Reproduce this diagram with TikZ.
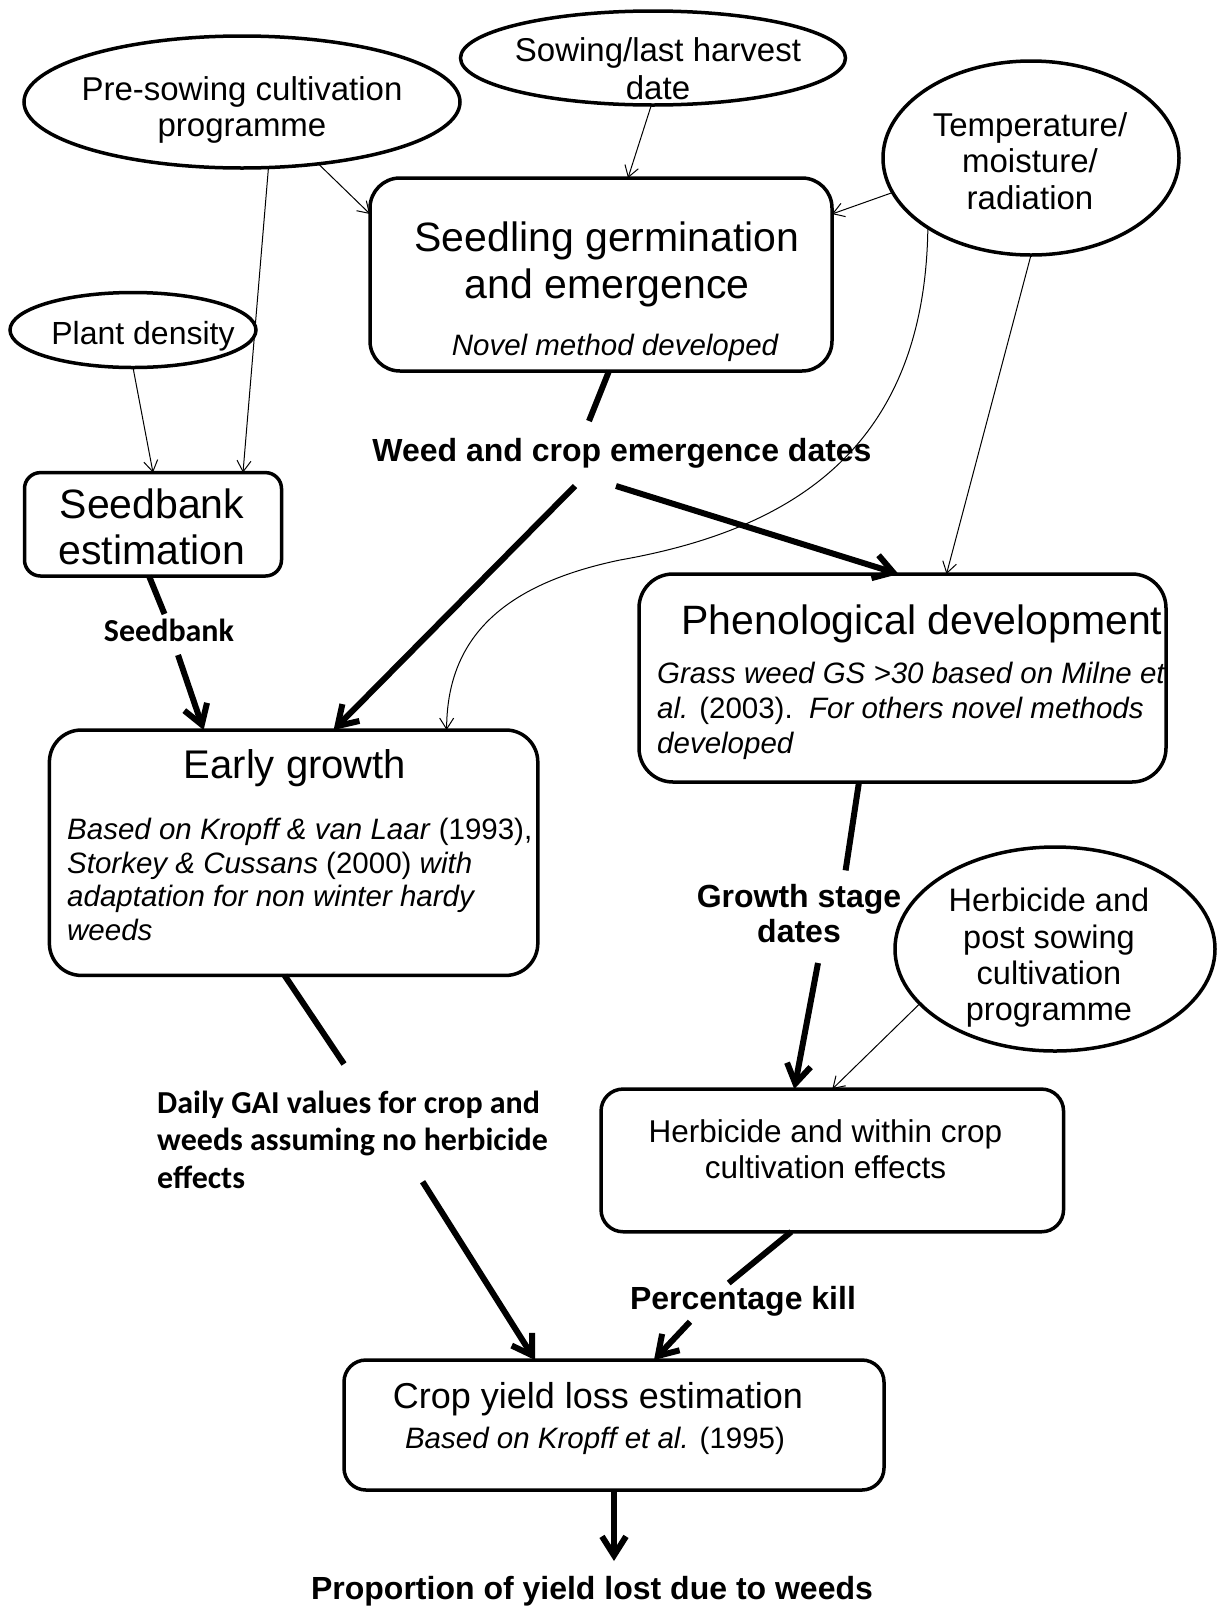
\documentclass[tikz,border=0pt]{standalone}
\usepackage{fontspec}
\setmainfont{Liberation Sans}
\newfontfamily\calfont{Carlito}
\usetikzlibrary{shapes.geometric,arrows.meta}

\begin{document}
\begin{tikzpicture}[x=1pt,y=-1pt,
	oval/.style={ellipse,draw,line width=3.5pt,inner sep=0pt,outer sep=0pt},
	stage/.style={rectangle,draw,line width=3.5pt,inner sep=0pt,outer sep=0pt},
	txt/.style={inner sep=0pt,align=center},
	feed/.style={line width=1pt,-{Straight Barb[length=11pt,width=14pt]}},
	flow/.style={line width=6pt},
	flowto/.style={line width=6pt,-{Straight Barb[length=19pt,width=24pt]}},
	lbl/.style={inner sep=0pt,align=center,font=\fontsize{32}{35.5}\selectfont\bfseries},
	clbl/.style={inner sep=0pt,align=left,font=\calfont\fontsize{32}{37.5}\selectfont\bfseries}]
		\useasboundingbox (0,0) rectangle (1216,1607);
		\fill[white] (0,0) rectangle (1216,1607);
		%inputs
		\node[oval,minimum width=436pt,minimum height=132pt] (presow) at (242,102) {};
		\node[txt,font=\fontsize{33}{36.5}\selectfont] (presow-t) at (242,110) {Pre-sowing cultivation\\programme};
		\node[oval,minimum width=385pt,minimum height=94pt] (sowing) at (653,58) {};
		\node[txt,font=\fontsize{33}{38}\selectfont] (sowing-t) at (658,69) {Sowing/last harvest\\date};
		\node[oval,minimum width=296pt,minimum height=194pt] (climate) at (1031,158) {};
		\node[txt,font=\fontsize{33}{36.5}\selectfont] (climate-t) at (1030,161) {Temperature/\\moisture/\\radiation};
		\node[oval,minimum width=246pt,minimum height=75pt] (density) at (133,330) {};
		\node[txt,font=\fontsize{32}{36}\selectfont] (density-t) at (143,336) {Plant density};
		\node[oval,minimum width=320pt,minimum height=204pt] (herbprog) at (1055,949) {};
		\node[txt,font=\fontsize{32.5}{36.3}\selectfont] (herbprog-t) at (1049,958) {Herbicide and\\post sowing\\cultivation\\programme};
		%seedling germination
		\node[stage,rounded corners=30pt,minimum width=462pt,minimum height=193pt] (seedling) at (601,274.5) {};
		\node[txt,font=\fontsize{41}{47}\selectfont] (seedling-t) at (607,264) {Seedling germination\\and emergence};
		\node[txt,font=\fontsize{29.5}{33}\selectfont\itshape] (seedling-n) at (615,347.5) {Novel method developed};
		%seedbank
		\node[stage,rounded corners=16pt,minimum width=257pt,minimum height=103.4pt] (seedbank) at (153,524.3) {};
		\node[txt,font=\fontsize{41}{46}\selectfont] (seedbank-t) at (152,527) {Seedbank\\estimation};
		%early growth
		\node[stage,rounded corners=32pt,minimum width=488.4pt,minimum height=245.4pt] (early) at (293.6,852.7) {};
		\node[txt,font=\fontsize{40}{45}\selectfont] (early-t) at (295,768) {Early growth};
		\node[txt,align=left,anchor=west,font=\fontsize{29.5}{33.7}\selectfont] (early-n) at (67,879.4) {\textit{Based on Kropff \& van Laar} (1993),\\\textit{Storkey \& Cussans} (2000) \textit{with}\\\textit{adaptation for non winter hardy}\\\textit{weeds}};
		%phenology
		\node[stage,rounded corners=34pt,minimum width=527pt,minimum height=208pt] (pheno) at (902.5,678) {};
		\node[txt,font=\fontsize{41}{46}\selectfont] (pheno-t) at (922,624) {Phenological development};
		\node[txt,align=left,anchor=west,font=\fontsize{29.5}{34.7}\selectfont] (pheno-n) at (657,711) {\textit{Grass weed GS >30 based on Milne et}\\\textit{al.} (2003).\ \ \textit{For others novel methods}\\\textit{developed}};
		%herbicide effects
		\node[stage,rounded corners=22pt,minimum width=462.5pt,minimum height=142.7pt] (herbbox) at (832.3,1160.4) {};
		\node[txt,font=\fontsize{31.5}{36}\selectfont] (herbbox-t) at (825.5,1149) {Herbicide and within crop\\cultivation effects};
		%yield loss
		\node[stage,rounded corners=22pt,minimum width=540pt,minimum height=130pt] (crop) at (614,1425) {};
		\node[txt,font=\fontsize{36}{40}\selectfont] (crop-t) at (598,1399.5) {Crop yield loss estimation};
		\node[txt,font=\fontsize{29.5}{33}\selectfont] (crop-n) at (595,1441) {\textit{Based on Kropff et al.} (1995)};
		%outputs
		\node[lbl] (emerg) at (622,453) {Weed and crop emergence dates};
		\node[clbl] (sbank) at (169,630) {Seedbank};
		\node[clbl,anchor=west] (gai) at (157,1139.5) {Daily GAI values for crop and\\weeds assuming no herbicide\\effects};
		\node[lbl] (gsd) at (799,913.5) {Growth stage\\dates};
		\node[lbl] (kill) at (743,1301) {Percentage kill};
		\node[lbl] (prop) at (592,1591.5) {Proportion of yield lost due to weeds};
		%arrow ends near labels
		\coordinate (e1) at (589,421);
		\coordinate (e2) at (575,486);
		\coordinate (e3) at (616,486);
		\coordinate (s1) at (164.5,614);
		\coordinate (s2) at (178,655);
		\coordinate (g1) at (344,1064);
		\coordinate (g2) at (422.6,1181.7);
		\coordinate (d1) at (845.6,870.4);
		\coordinate (d2) at (818,963);
		\coordinate (k1) at (728.7,1283);
		\coordinate (k2) at (690,1321.7);
		\coordinate (p1) at (614,1561);
		%thin arrows
		\draw[feed] (presow.-39) -- ([yshift=-36pt]seedling.north west);
		\draw[feed] (presow.-68) -- ([xshift=90pt]seedbank.north);
		\draw[feed] (sowing.-92) -- ([xshift=27pt]seedling.north);
		\draw[feed] (climate.194) -- ([yshift=-36pt]seedling.north east);
		\draw[feed] (climate.-90) -- ([xshift=44pt]pheno.north);
		\draw[feed] (climate.214) .. controls (925,450) and (790,530) .. (620,560) .. controls (500,585) and (447,640) .. ([xshift=153pt]early.north);
		\draw[feed] (density.south) -- (seedbank.north);
		\draw[feed] (herbprog.202) -- (herbbox.north);
		%thick arrows
		\draw[flow] ([xshift=8pt]seedling.south) -- (e1);
		\draw[flowto] (e2) -- ([xshift=40pt]early.north);
		\draw[flowto] (e3) -- ([xshift=-4pt]pheno.north);
		\draw[flow] ([xshift=-4pt]seedbank.south) -- (s1);
		\draw[flowto] (s2) -- ([xshift=-90pt]early.north);
		\draw[flow] ([xshift=-9pt]early.south) -- (g1);
		\draw[flowto] (g2) -- ([xshift=-79pt]crop.north);
		\draw[flow] ([xshift=-43.5pt]pheno.south) -- (d1);
		\draw[flowto] (d2) -- ([xshift=-38pt]herbbox.north);
		\draw[flow] ([xshift=-41pt]herbbox.south) -- (k1);
		\draw[flowto] (k2) -- ([xshift=40pt]crop.north);
		\draw[flowto] (crop.south) -- (p1);
	\end{tikzpicture}
\end{document}
